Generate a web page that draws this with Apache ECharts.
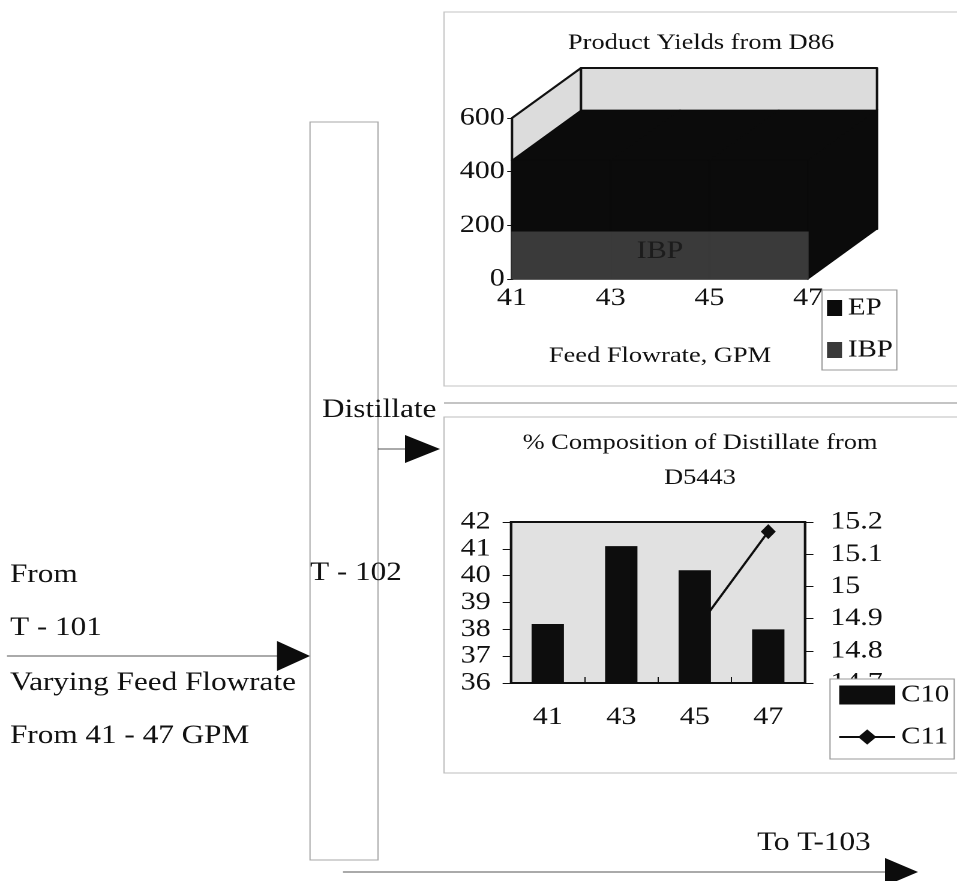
<!DOCTYPE html>
<html>
<head>
<meta charset="utf-8">
<title>T-102 Distillation</title>
<script src="https://cdn.jsdelivr.net/npm/echarts@6/dist/echarts.min.js"></script>
<style>
  html, body { margin: 0; padding: 0; background: #fff; overflow: hidden; }
  #wrap { width: 957px; height: 881px; overflow: hidden; position: relative; }
  /* the whole sheet is drawn narrow and widened, giving the wide serif lettering */
  #chart { width: 798px; height: 881px; transform: scaleX(1.2); transform-origin: 0 0; }
</style>
</head>
<body>
<div id="wrap"><div id="chart"></div></div>
<script>
const SX = 1.2;
const X = v => v / SX;

// Product yields (D86) versus feed flowrate
const flowrates = [41, 43, 45, 47];
const epYield = [443, 443, 443, 443];
const ibpYield = [175, 175, 175, 175];
const yieldTicks = [0, 200, 400, 600];

// Distillate composition (D5443)
const flowrateLabels = ['41', '43', '45', '47'];
const c10Pct = [38.2, 41.1, 40.2, 38.0];
const c11Pct = [null, null, 14.86, 15.17];
const c10Ticks = [36, 37, 38, 39, 40, 41, 42];
const c11Ticks = [14.7, 14.8, 14.9, 15.0, 15.1, 15.2];

const FONT = '"Liberation Serif", "Times New Roman", serif';
const INK = '#111';
const DEPTH = [X(69), -50];   // 3-D depth offset of the yield plot
const shift = p => [p[0] + DEPTH[0], p[1] + DEPTH[1]];

// back and side walls of the 3-D yield plot
function renderWalls(params, api) {
  const x0 = flowrates[0], x1 = flowrates[flowrates.length - 1];
  const yMax = yieldTicks[yieldTicks.length - 1];
  const fb = api.coord([x0, 0]), ft = api.coord([x0, yMax]);
  const rb = api.coord([x1, 0]), rt = api.coord([x1, yMax]);
  const st = { fill: '#dcdcdc', stroke: INK, lineWidth: 2, lineJoin: 'round' };
  return {
    type: 'group',
    children: [
      { type: 'polygon', shape: { points: [fb, ft, shift(ft), shift(fb)] }, style: st },
      { type: 'polygon', shape: { points: [shift(fb), shift(ft), shift(rt), shift(rb)] }, style: st }
    ]
  };
}

// one segment of a 3-D area band; withDepth adds top and end faces
function areaBand(color, withDepth, label) {
  return function (params, api) {
    const i = params.dataIndexInside;
    const n = params.dataInsideLength;
    const children = [];
    const p0 = api.coord([api.value(0), 0]);
    const p1 = api.coord([api.value(0), api.value(1)]);
    const st = { fill: color, stroke: color, lineWidth: 1 };
    if (i < n - 1) {
      const q0 = api.coord([api.value(0, i + 1), 0]);
      const q1 = api.coord([api.value(0, i + 1), api.value(1, i + 1)]);
      children.push({ type: 'polygon', shape: { points: [p0, p1, q1, q0] }, style: st });
      if (withDepth) {
        children.push({ type: 'polygon', shape: { points: [p1, q1, shift(q1), shift(p1)] }, style: st });
      }
    } else if (withDepth) {
      children.push({ type: 'polygon', shape: { points: [p0, p1, shift(p1), shift(p0)] }, style: st });
    }
    if (label && i === 0) {
      // series name centred on the front face
      const a = api.coord([api.value(0, 0), 0]);
      const b = api.coord([api.value(0, n - 1), api.value(1, n - 1)]);
      children.push({
        type: 'text', z2: 10,
        style: { text: label, x: (a[0] + b[0]) / 2, y: (a[1] + b[1]) / 2 - 4,
                 align: 'center', verticalAlign: 'middle',
                 fill: '#1c1c1c', fontSize: 25, fontFamily: FONT }
      });
    }
    return { type: 'group', children };
  };
}

const labelStyle = { color: INK, fontSize: 25, fontFamily: FONT };

function txt(x, y, text, size, align) {
  return {
    type: 'text', x: X(x), y: y, z: 20,
    style: { text: text, fill: INK, fontSize: size, fontFamily: FONT,
             align: align || 'left', verticalAlign: 'middle' }
  };
}
function hline(x1, x2, y, color) {
  return { type: 'line', z: 1, shape: { x1: X(x1), y1: y, x2: X(x2), y2: y },
           style: { stroke: color || '#666', lineWidth: 1 } };
}
function head(tipX, y, baseX, half) {
  return { type: 'polygon', z: 5,
           shape: { points: [[X(baseX), y - half], [X(tipX), y], [X(baseX), y + half]] },
           style: { fill: '#0c0c0c' } };
}
function frame(x, y, w, h, color) {
  return { type: 'rect', z: 0, shape: { x: X(x), y: y, width: X(w), height: h },
           style: { fill: 'none', stroke: color || '#bdbdbd', lineWidth: 1 } };
}

const option = {
  backgroundColor: '#fff',
  animation: false,
  textStyle: { fontFamily: FONT, color: INK },
  grid: [
    { left: X(512), width: X(296), top: 118, height: 161 },
    { left: X(511), width: X(294), top: 522, height: 161, show: true,
      backgroundColor: '#e1e1e1', borderColor: INK, borderWidth: 2 }
  ],
  xAxis: [
    { gridIndex: 0, type: 'value', min: flowrates[0], max: flowrates[flowrates.length - 1],
      interval: flowrates[1] - flowrates[0],
      axisLine: { show: true, lineStyle: { color: INK, width: 1.5 } },
      axisTick: { show: false }, splitLine: { show: false },
      axisLabel: Object.assign({ margin: 7 }, labelStyle),
      name: 'Feed Flowrate, GPM', nameLocation: 'middle', nameGap: 66,
      nameTextStyle: { color: INK, fontSize: 22, fontFamily: FONT } },
    { gridIndex: 1, type: 'category', data: flowrateLabels,
      axisLine: { show: true, lineStyle: { color: INK, width: 2 } },
      axisTick: { show: true, inside: true, length: 6, lineStyle: { color: INK } },
      axisLabel: Object.assign({ margin: 22 }, labelStyle) }
  ],
  yAxis: [
    { gridIndex: 0, type: 'value', min: yieldTicks[0], max: yieldTicks[yieldTicks.length - 1],
      interval: yieldTicks[1] - yieldTicks[0],
      axisLine: { show: true, lineStyle: { color: INK, width: 2 } },
      axisTick: { show: true, length: 4, lineStyle: { color: INK } },
      splitLine: { show: false },
      axisLabel: Object.assign({ margin: 6, padding: [0, 0, 10, 0] }, labelStyle) },
    { gridIndex: 1, type: 'value', position: 'left',
      min: c10Ticks[0], max: c10Ticks[c10Ticks.length - 1], interval: c10Ticks[1] - c10Ticks[0],
      axisLine: { show: true, lineStyle: { color: INK, width: 2 } },
      axisTick: { show: true, length: 7, lineStyle: { color: INK } },
      splitLine: { show: false },
      axisLabel: Object.assign({ margin: 17 }, labelStyle) },
    { gridIndex: 1, type: 'value', position: 'right',
      min: c11Ticks[0], max: c11Ticks[c11Ticks.length - 1],
      interval: +(c11Ticks[1] - c11Ticks[0]).toFixed(1),
      axisLine: { show: true, lineStyle: { color: INK, width: 2 } },
      axisTick: { show: true, length: 7, lineStyle: { color: INK } },
      splitLine: { show: false },
      axisLabel: Object.assign({ margin: 21, formatter: v => String(+(+v).toFixed(1)) }, labelStyle) }
  ],
  legend: [
    { data: ['EP', 'IBP'], orient: 'vertical', left: X(822), top: 290,
      itemWidth: X(15), itemHeight: 16, itemGap: 18, icon: 'rect',
      padding: [6, X(4), 8, X(5)],
      backgroundColor: '#fff', borderColor: '#9a9a9a', borderWidth: 1,
      textStyle: { color: INK, fontSize: 24, fontFamily: FONT } },
    { data: [{ name: 'C10', icon: 'rect' }, { name: 'C11' }], orient: 'vertical',
      left: X(830), top: 679,
      itemWidth: X(56), itemHeight: 19, itemGap: 18,
      padding: [4, X(5), 10, X(8)],
      backgroundColor: '#fff', borderColor: '#9a9a9a', borderWidth: 1,
      textStyle: { color: INK, fontSize: 24, fontFamily: FONT } }
  ],
  series: [
    { type: 'custom', name: 'walls', xAxisIndex: 0, yAxisIndex: 0, z: 1, silent: true,
      renderItem: renderWalls,
      data: [[flowrates[0], yieldTicks[yieldTicks.length - 1]]] },
    { type: 'custom', name: 'EP', xAxisIndex: 0, yAxisIndex: 0, z: 2,
      itemStyle: { color: '#0b0b0b' },
      renderItem: areaBand('#0b0b0b', true, null),
      encode: { x: 0, y: 1 },
      data: flowrates.map((f, i) => [f, epYield[i]]) },
    { type: 'custom', name: 'IBP', xAxisIndex: 0, yAxisIndex: 0, z: 3,
      itemStyle: { color: '#3a3a3a' },
      renderItem: areaBand('#3a3a3a', false, 'IBP'),
      encode: { x: 0, y: 1 },
      data: flowrates.map((f, i) => [f, ibpYield[i]]) },
    { type: 'bar', name: 'C10', xAxisIndex: 1, yAxisIndex: 1, z: 3,
      barWidth: '44%', itemStyle: { color: '#0d0d0d' },
      data: c10Pct },
    { type: 'line', name: 'C11', xAxisIndex: 1, yAxisIndex: 2, z: 2,
      symbol: 'diamond', symbolSize: [X(15), 15], showSymbol: true,
      lineStyle: { color: '#0d0d0d', width: 2 },
      itemStyle: { color: '#0d0d0d' },
      data: c11Pct.map(v => (v === null ? '-' : v)) }
  ],
  graphic: [
    // chart frames and separator
    frame(444, 12, 520, 374, '#c4c4c4'),
    hline(444, 957, 403, '#8a8a8a'),
    frame(444, 417, 520, 356, '#bdbdbd'),
    // T-102 column
    frame(310, 122, 68, 738, '#a8a8a8'),
    // chart titles
    txt(701, 43, 'Product Yields from D86', 22, 'center'),
    txt(700, 443, '% Composition of Distillate from', 22, 'center'),
    txt(700, 478, 'D5443', 22, 'center'),
    // feed stream
    txt(10, 575, 'From', 26),
    txt(10, 628, 'T - 101', 26),
    hline(7, 282, 656, '#555'),
    head(310, 656, 277, 15),
    txt(10, 683, 'Varying Feed Flowrate', 26),
    txt(10, 736, 'From 41 - 47 GPM', 26),
    txt(310, 573, 'T - 102', 26),
    // distillate stream
    txt(322, 410, 'Distillate', 26),
    hline(378, 408, 449, '#555'),
    head(440, 449, 405, 14),
    // bottoms stream
    txt(757, 843, 'To T-103', 26),
    hline(343, 888, 872, '#555'),
    head(918, 872, 885, 14)
  ]
};

const chart = echarts.init(document.getElementById('chart'), null, { renderer: 'canvas', devicePixelRatio: 2 });
chart.setOption(option);
</script>
</body>
</html>
